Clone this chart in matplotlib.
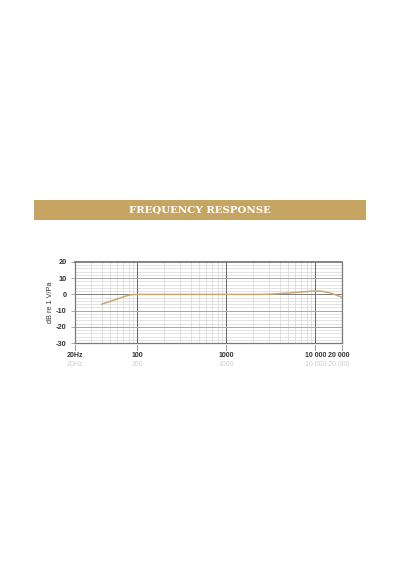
import matplotlib
matplotlib.use("Agg")
import matplotlib.pyplot as plt
from matplotlib.patches import Rectangle
import numpy as np

freq = [40, 50, 60, 70, 80, 90, 100, 200, 500, 1000, 2000, 3000, 5000, 7000, 10000, 12000, 15000, 18000, 20000]
resp = [-6.0, -4.3, -2.8, -1.5, -0.5, -0.1, 0.0, 0.0, 0.0, 0.0, 0.0, 0.1, 0.8, 1.5, 2.1, 1.9, 0.8, -0.8, -1.8]
x_ticks = [20, 100, 1000, 10000, 20000]
x_labels = ["20Hz", "100", "1000", "10 000", "20 000"]
y_ticks = [20, 10, 0, -10, -20, -30]
title = "FREQUENCY RESPONSE"

fig = plt.figure(figsize=(4, 5.7), dpi=100)
W, H = 400, 570

# banner
fig.patches.append(Rectangle((34 / W, 1 - 220 / H), 332 / W, 20 / H,
                             transform=fig.transFigure, facecolor="#c6a462",
                             edgecolor="none"))
fig.text(0.5, 1 - 210 / H, title, ha="center", va="center", color="white",
         fontsize=7.4, fontweight="bold", family="DejaVu Serif")

ax = fig.add_axes([75 / W, 1 - 343 / H, 267 / W, 81 / H])
ax.set_xscale("log")
ax.set_xlim(20, 20000)
ax.set_ylim(-30, 20)

# grid
minor_x = [f * d for d in (10, 100, 1000) for f in range(2, 10)] + [10000 * 2]
for f in minor_x:
    if 20 < f < 20000:
        ax.axvline(f, color="#d4d4d4", lw=0.5, zorder=1)
for f in (100, 1000, 10000):
    ax.axvline(f, color="#666666", lw=0.7, zorder=2)
for y in range(-30, 21, 2):
    if y % 10 != 0:
        ax.axhline(y, color="#d8d8d8", lw=0.5, zorder=1)
for y in (10, 0, -10, -20):
    ax.axhline(y, color="#7a7a7a" if y == 0 else "#a8a8a8", lw=0.7, zorder=2)

ax.plot(freq, resp, color="#c9a872", lw=1.1, zorder=3)

for s in ax.spines.values():
    s.set_color("#7a7a7a")
    s.set_linewidth(0.9)
ax.spines["top"].set_linewidth(1.3)

ax.set_yticks(y_ticks)
ax.set_yticklabels([str(v) for v in y_ticks], fontsize=5.3, color="#333333",
                   fontweight="bold", family="Liberation Sans")
ax.tick_params(axis="y", length=3, width=0.5, color="#888888", pad=3)
ax.set_xticks(x_ticks)
ax.set_xticklabels([])
ax.xaxis.set_minor_locator(matplotlib.ticker.NullLocator())
ax.tick_params(axis="x", length=0)

# bottom tick marks and labels
trans = ax.get_xaxis_transform()
shifts = [0, 0, 0, 0, -3]
for f, lab, dx in zip(x_ticks, x_labels, shifts):
    ax.plot([f, f], [-0.03, -0.09], transform=trans, color="#888888", lw=0.6, clip_on=False)
    ax.annotate(lab, (f, -0.155), xycoords=trans, xytext=(dx * 0.72, 0),
                textcoords="offset points", ha="center", va="center", fontsize=5,
                fontweight="bold", color="#333333", family="Liberation Sans")
    ax.annotate(lab, (f, -0.265), xycoords=trans, xytext=(dx * 0.72, 0),
                textcoords="offset points", ha="center", va="center", fontsize=5,
                color="#cfcfcf", family="Liberation Sans")

fig.text(51 / W, 1 - 302 / H, "dB re 1 V/Pa", rotation=90, ha="center", va="center",
         fontsize=5.3, color="#333333", family="Liberation Sans")

fig.savefig("out.png", dpi=100, facecolor="white")
